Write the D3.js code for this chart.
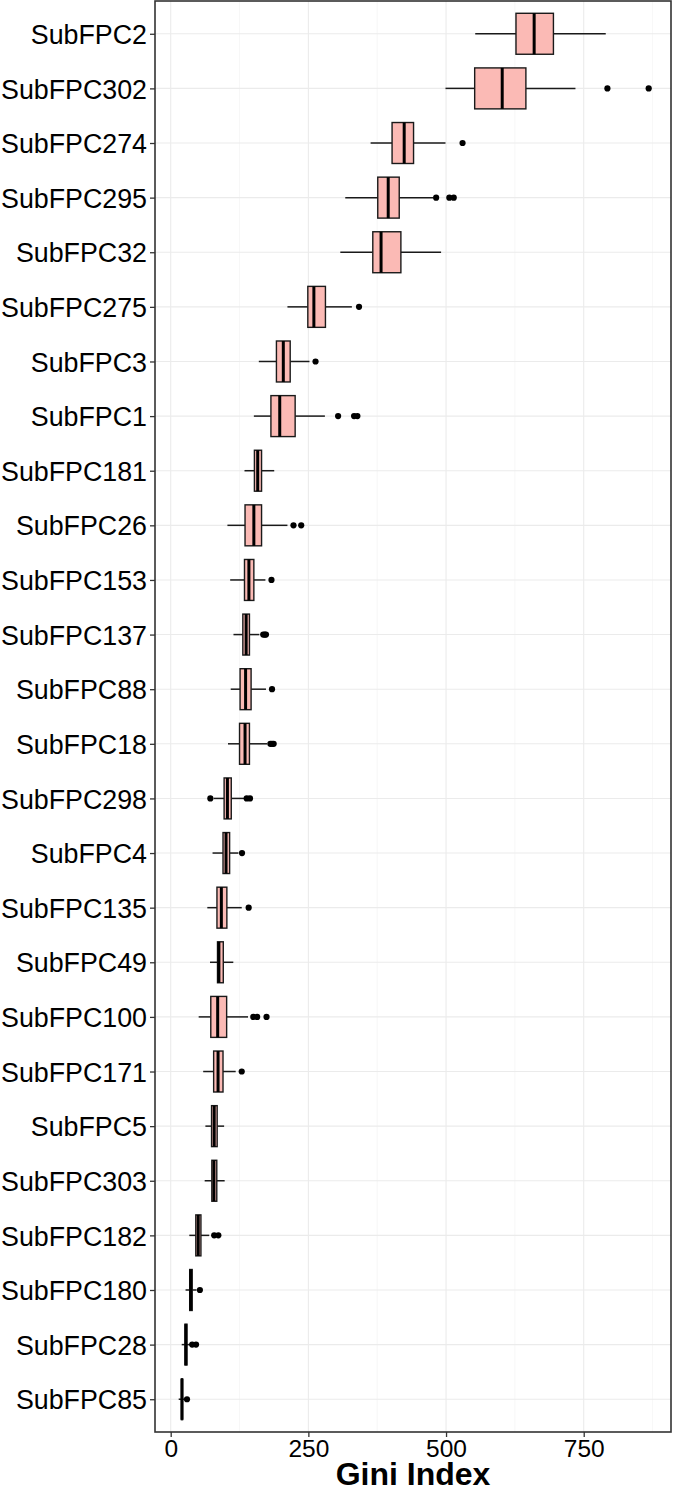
<!DOCTYPE html>
<html>
<head>
<meta charset="utf-8">
<script src="https://cdn.jsdelivr.net/npm/d3@7"></script>
<style>
  body { margin: 0; background: #fff; }
  text { font-family: "Liberation Sans", Arial, sans-serif; }
</style>
</head>
<body>
<div id="chart"></div>
<script>
// categories top to bottom
const categories = ['SubFPC2', 'SubFPC302', 'SubFPC274', 'SubFPC295', 'SubFPC32', 'SubFPC275', 'SubFPC3', 'SubFPC1',
    'SubFPC181', 'SubFPC26', 'SubFPC153', 'SubFPC137', 'SubFPC88', 'SubFPC18', 'SubFPC298', 'SubFPC4',
    'SubFPC135', 'SubFPC49', 'SubFPC100', 'SubFPC171', 'SubFPC5', 'SubFPC303', 'SubFPC182', 'SubFPC180',
    'SubFPC28', 'SubFPC85'];
// box stats (Gini Index)
const whiskerLow = [553, 499, 363, 317, 308, 212, 160, 151, 134, 103, 108, 114, 109, 104, 78, 76, 66.5, 71.4, 50.8, 59, 63, 61.7, 33.8, 27, 20, 14.5];
const q1 = [627, 552, 402, 376, 367, 249, 192, 182, 152, 135, 134, 131, 126, 125, 97, 95, 84, 85, 72.8, 78, 74.2, 74.7, 45.6, 34.5, 26, 19.5];
const median = [660, 602, 424, 395, 382, 260, 204.5, 198, 158, 151, 142, 137, 136, 135, 103, 100.5, 92, 87.5, 85.3, 86, 79, 78.5, 50, 36.5, 27.5, 20.5];
const q3 = [695, 645, 441, 415, 418, 281, 217, 226, 165, 165, 151, 143, 146, 143, 110, 107, 102, 95.5, 101.6, 95, 84.4, 83.7, 54.9, 39, 29.5, 21.5];
const whiskerHigh = [790, 735, 499, 477, 491, 329, 252, 280, 188, 212, 172, 161, 173, 175, 134, 123, 129, 113.7, 140.4, 118, 97, 98, 70, 47, 35, 25];
const outliers = [[], [793, 868], [530], [482, 506, 514], [], [342], [263], [304, 333, 339],
    [], [223, 237], [183], [168, 171, 173], [184], [181, 184, 187], [72, 138, 144], [129.5],
    [141.6], [], [150, 157, 174], [129], [], [], [79, 86.5], [53], [39, 46], [29.6]];
const xTicks = [0, 250, 500, 750];
const xMinor = [125, 375, 625, 875];

const W = 673, H = 1492;
const panel = { left: 155, right: 671, top: 1, bottom: 1432 };

const svg = d3.select('#chart').append('svg').attr('width', W).attr('height', H);

const x = d3.scaleLinear().domain([-28.5, 908.5]).range([panel.left, panel.right]);
const y = d3.scalePoint().domain(categories).range([panel.top, panel.bottom]).padding(0.6);
const boxH = y.step() * 0.75;

const rows = categories.map((c, i) => ({
    name: c, lo: whiskerLow[i], q1: q1[i], med: median[i], q3: q3[i], hi: whiskerHigh[i], out: outliers[i]
}));

// grid
const grid = svg.append('g');
grid.selectAll('.minor').data(xMinor).enter().append('line')
    .attr('x1', (d) => x(d)).attr('x2', (d) => x(d))
    .attr('y1', panel.top).attr('y2', panel.bottom)
    .attr('stroke', '#f2f2f2').attr('stroke-width', 0.6);
grid.selectAll('.major').data(xTicks).enter().append('line')
    .attr('x1', (d) => x(d)).attr('x2', (d) => x(d))
    .attr('y1', panel.top).attr('y2', panel.bottom)
    .attr('stroke', '#ebebeb').attr('stroke-width', 1.1);
grid.selectAll('.hgrid').data(categories).enter().append('line')
    .attr('x1', panel.left).attr('x2', panel.right)
    .attr('y1', (d) => y(d)).attr('y2', (d) => y(d))
    .attr('stroke', '#ebebeb').attr('stroke-width', 1.1);

// boxplots
const ink = '#1a1a1a';
const g = svg.append('g').selectAll('g').data(rows).enter().append('g');
g.append('line')
    .attr('x1', (d) => x(d.lo)).attr('x2', (d) => x(d.q1))
    .attr('y1', (d) => y(d.name)).attr('y2', (d) => y(d.name))
    .attr('stroke', ink).attr('stroke-width', 1.5);
g.append('line')
    .attr('x1', (d) => x(d.q3)).attr('x2', (d) => x(d.hi))
    .attr('y1', (d) => y(d.name)).attr('y2', (d) => y(d.name))
    .attr('stroke', ink).attr('stroke-width', 1.5);
g.append('rect')
    .attr('x', (d) => x(d.q1)).attr('width', (d) => x(d.q3) - x(d.q1))
    .attr('y', (d) => y(d.name) - boxH / 2).attr('height', boxH)
    .attr('fill', '#fbbab5').attr('stroke', ink).attr('stroke-width', 1.4);
g.append('line')
    .attr('x1', (d) => x(d.med)).attr('x2', (d) => x(d.med))
    .attr('y1', (d) => y(d.name) - boxH / 2).attr('y2', (d) => y(d.name) + boxH / 2)
    .attr('stroke', '#000').attr('stroke-width', 3);
g.selectAll('circle').data((d) => d.out.map((v) => ({ v, name: d.name }))).enter().append('circle')
    .attr('cx', (d) => x(d.v)).attr('cy', (d) => y(d.name)).attr('r', 3.1).attr('fill', '#000');

// panel border
svg.append('rect')
    .attr('x', panel.left).attr('y', panel.top)
    .attr('width', panel.right - panel.left).attr('height', panel.bottom - panel.top)
    .attr('fill', 'none').attr('stroke', '#333').attr('stroke-width', 1.6);

// axes
const yAxis = svg.append('g').attr('transform', `translate(${panel.left},0)`)
    .call(d3.axisLeft(y).tickSize(5).tickPadding(3));
yAxis.select('.domain').remove();
yAxis.selectAll('line').attr('stroke', '#333').attr('stroke-width', 1.3);
yAxis.selectAll('text').attr('fill', '#000').style('font-size', '26.8px').attr('dy', '0.36em');

const xAxis = svg.append('g').attr('transform', `translate(0,${panel.bottom})`)
    .call(d3.axisBottom(x).tickValues(xTicks).tickSize(5).tickPadding(3));
xAxis.select('.domain').remove();
xAxis.selectAll('line').attr('stroke', '#333').attr('stroke-width', 1.3);
xAxis.selectAll('text').attr('fill', '#000').style('font-size', '24.5px');

svg.append('text')
    .attr('x', (panel.left + panel.right) / 2).attr('y', 1485)
    .attr('text-anchor', 'middle')
    .style('font-size', '32px').style('font-weight', 'bold')
    .text('Gini Index');
</script>
</body>
</html>
